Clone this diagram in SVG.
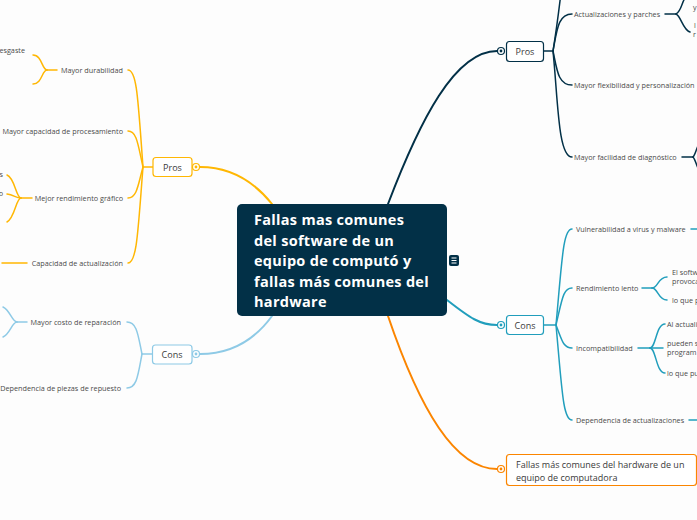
<svg xmlns="http://www.w3.org/2000/svg" width="697" height="520" viewBox="0 0 697 520">
<style>
.bg{fill:#fdfdfd}
.cn{fill:none;stroke-width:2;stroke-linecap:round}
.br{fill:none;stroke-width:1.5;stroke-linecap:round}
.navy{stroke:#023047}
.teal{stroke:#219ebc}
.amber{stroke:#ffb703}
.sky{stroke:#8ecae6}
.orange{stroke:#fb8500}
.box{fill:#ffffff;stroke-width:1.2}
.lbl{font-family:'Open Sans','Noto Sans','DejaVu Sans',sans-serif;font-size:7.25px;fill:#4a4a4a}
.nt{font-family:'Open Sans','Noto Sans','DejaVu Sans',sans-serif;font-size:9px;fill:#3a3a3a}
.ct{font-family:'Open Sans','Noto Sans','DejaVu Sans',sans-serif;font-size:14.5px;letter-spacing:0.3px;font-weight:bold;fill:#ffffff}
.dot{fill:#ffffff;stroke-width:1.2}
</style>
<rect class="bg" x="0" y="0" width="697" height="520"/>
<g id="connectors">
  <path class="cn navy" d="M388 204 C 420 120 455 51 497 51"/>
  <path class="cn teal" d="M447 300 C 470 318 480 325 497 325"/>
  <path class="cn orange" d="M388 316 C 420 410 455 469 497 469"/>
  <path class="cn amber" d="M200 167 C 232 167 256 184 272 204"/>
  <path class="cn sky" d="M200 354 C 232 354 256 338 272 316"/>
  <path class="br navy" d="M543 51 H553"/>
  <path class="br navy" d="M553 51 C 558 20 560 0 562 -15"/>
  <path class="br navy" d="M553 51 C 557 30 558 14 572 14"/>
  <path class="br navy" d="M553 51 C 557 70 558 85 572 85"/>
  <path class="br navy" d="M553 51 C 558 100 558 157 572 157"/>
  <path class="br navy" d="M665 14 H676"/>
  <path class="br navy" d="M676 14 C 681 12 682 2 685 -2"/>
  <path class="br navy" d="M676 14 C 681 16 683 30 690 32"/>
  <path class="br navy" d="M682 157 H693"/>
  <path class="br navy" d="M693 157 C 695 155 696 150 698 146"/>
  <path class="br navy" d="M693 157 C 695 159 696 164 698 168"/>
  <path class="br teal" d="M543 325 H556"/>
  <path class="br teal" d="M556 325 C 562 260 563 229 572 229"/>
  <path class="br teal" d="M556 325 C 562 300 563 288 572 288"/>
  <path class="br teal" d="M556 325 C 562 340 563 348 572 348"/>
  <path class="br teal" d="M556 325 C 562 390 563 420 572 420"/>
  <path class="br teal" d="M691 229 H698"/>
  <path class="br teal" d="M642 288 H652"/>
  <path class="br teal" d="M652 288 C 658 288 658 277 667 277"/>
  <path class="br teal" d="M652 288 C 658 288 658 300 667 300"/>
  <path class="br teal" d="M638 348 H650"/>
  <path class="br teal" d="M650 348 C 656 348 656 324 665 324"/>
  <path class="br teal" d="M650 348 H663"/>
  <path class="br teal" d="M650 348 C 656 348 656 373 665 373"/>
  <path class="br teal" d="M689 420 H698"/>
  <path class="br amber" d="M153 167 H143"/>
  <path class="br amber" d="M143 167 C 138 100 137 70 128 70"/>
  <path class="br amber" d="M143 167 C 138 145 137 131 128 131"/>
  <path class="br amber" d="M143 167 C 138 185 137 198 128 198"/>
  <path class="br amber" d="M143 167 C 138 230 137 263 128 263"/>
  <path class="br amber" d="M57 70 H47"/>
  <path class="br amber" d="M47 70 C 42 70 42 55 33 55"/>
  <path class="br amber" d="M47 70 C 42 70 42 84 33 84"/>
  <path class="br amber" d="M32 198 H21"/>
  <path class="br amber" d="M21 198 C 16 198 15 178 7 175"/>
  <path class="br amber" d="M21 198 C 16 198 14 195 7 194"/>
  <path class="br amber" d="M21 198 C 16 198 15 218 7 222"/>
  <path class="br amber" d="M27 263 H2"/>
  <path class="br sky" d="M152 354 H142"/>
  <path class="br sky" d="M142 354 C 138 335 137 322 127 322"/>
  <path class="br sky" d="M142 354 C 138 375 137 388 127 388"/>
  <path class="br sky" d="M27 322 H17"/>
  <path class="br sky" d="M17 322 C 12 322 10 310 3 307"/>
  <path class="br sky" d="M17 322 C 12 322 10 334 3 337"/>
</g>

<g id="central">
  <rect x="237" y="204" width="210" height="112" rx="5" fill="#023047"/>
  <text class="ct" x="254" y="225">Fallas mas comunes</text>
  <text class="ct" x="254" y="246">del software de un</text>
  <text class="ct" x="254" y="266">equipo de computó y</text>
  <text class="ct" x="254" y="287">fallas más comunes del</text>
  <text class="ct" x="254" y="307">hardware</text>
</g>
<g id="central-note-icon">
  <rect x="449" y="255" width="10" height="11" rx="2" fill="#023047"/>
  <path d="M451.5 258 H456.5 M451.5 260.5 H456.5 M451.5 263 H456.5" stroke="#ffffff" stroke-width="1"/>
</g>

<g id="pros-right">
  <rect class="box navy" x="506.5" y="41.5" width="37" height="20" rx="3"/>
  <text class="nt" x="525" y="55" text-anchor="middle">Pros</text>
  <circle class="dot navy" cx="501" cy="51" r="3.5"/>
  <circle cx="501" cy="51" r="1.4" fill="#023047"/>
</g>
<g id="pr-actualizaciones"><text class="lbl" x="574" y="16.5">Actualizaciones y parches</text></g>
<g id="pr-flexibilidad"><text class="lbl" x="574" y="87.5">Mayor flexibilidad y personalización</text></g>
<g id="pr-diagnostico"><text class="lbl" x="574" y="159.5">Mayor facilidad de diagnóstico</text></g>
<g id="pr-act-1"><text class="lbl" x="693" y="10">y</text></g>
<g id="pr-act-2"><text class="lbl" x="694" y="28">l</text><text class="lbl" x="693" y="37">r</text></g>

<g id="cons-right">
  <rect class="box teal" x="506.5" y="315.5" width="37" height="19" rx="3"/>
  <text class="nt" x="525" y="328.5" text-anchor="middle">Cons</text>
  <circle class="dot teal" cx="501" cy="325" r="3.5"/>
  <circle cx="501" cy="325" r="1.4" fill="#219ebc"/>
</g>
<g id="cr-vulnerabilidad"><text class="lbl" x="576" y="231.5">Vulnerabilidad a virus y malware</text></g>
<g id="cr-rendimiento"><text class="lbl" x="576" y="290.5">Rendimiento lento</text></g>
<g id="cr-incompat"><text class="lbl" x="576" y="350.5">Incompatibilidad</text></g>
<g id="cr-dependencia"><text class="lbl" x="576" y="422.5">Dependencia de actualizaciones</text></g>
<g id="cr-rend-1"><text class="lbl" x="672" y="275">El softw</text><text class="lbl" x="672" y="284">provoca</text></g>
<g id="cr-rend-2"><text class="lbl" x="672" y="303">lo que p</text></g>
<g id="cr-inc-1"><text class="lbl" x="667" y="326.5">Al actuali</text></g>
<g id="cr-inc-2"><text class="lbl" x="667" y="346">pueden s</text><text class="lbl" x="667" y="355">program</text></g>
<g id="cr-inc-3"><text class="lbl" x="667" y="375.5">lo que pu</text></g>

<g id="hardware">
  <rect class="box orange" x="506.5" y="454.5" width="190" height="31" rx="3"/>
  <text class="nt" x="516" y="467.5">Fallas más comunes del hardware de un</text>
  <text class="nt" x="516" y="480.5">equipo de computadora</text>
  <circle class="dot orange" cx="501" cy="469" r="3.5"/>
  <circle cx="501" cy="469" r="1.4" fill="#fb8500"/>
</g>

<g id="pros-left">
  <rect class="box amber" x="153" y="157.5" width="39" height="19" rx="3"/>
  <text class="nt" x="172.5" y="170.5" text-anchor="middle">Pros</text>
  <circle class="dot amber" cx="196" cy="167" r="3.5"/>
  <circle cx="196" cy="167" r="1.4" fill="#ffb703"/>
</g>
<g id="pl-durabilidad"><text class="lbl" x="123" y="72.5" text-anchor="end">Mayor durabilidad</text></g>
<g id="pl-procesamiento"><text class="lbl" x="123" y="133.5" text-anchor="end">Mayor capacidad de procesamiento</text></g>
<g id="pl-grafico"><text class="lbl" x="123" y="200.5" text-anchor="end">Mejor rendimiento gráfico</text></g>
<g id="pl-actualizacion"><text class="lbl" x="123" y="265.5" text-anchor="end">Capacidad de actualización</text></g>
<g id="pl-dur-1"><text class="lbl" x="25" y="53" text-anchor="end">esgaste</text></g>
<g id="pl-gra-1"><text class="lbl" x="3" y="177" text-anchor="end">s</text></g>
<g id="pl-gra-2"><text class="lbl" x="3" y="196" text-anchor="end">o</text></g>

<g id="cons-left">
  <rect class="box sky" x="152.5" y="345" width="39.5" height="19" rx="3"/>
  <text class="nt" x="172" y="358" text-anchor="middle">Cons</text>
  <circle class="dot sky" cx="196" cy="354" r="3.5"/>
  <circle cx="196" cy="354" r="1.4" fill="#8ecae6"/>
</g>
<g id="cl-costo"><text class="lbl" x="121" y="324.5" text-anchor="end">Mayor costo de reparación</text></g>
<g id="cl-piezas"><text class="lbl" x="121" y="390.5" text-anchor="end">Dependencia de piezas de repuesto</text></g>
</svg>
